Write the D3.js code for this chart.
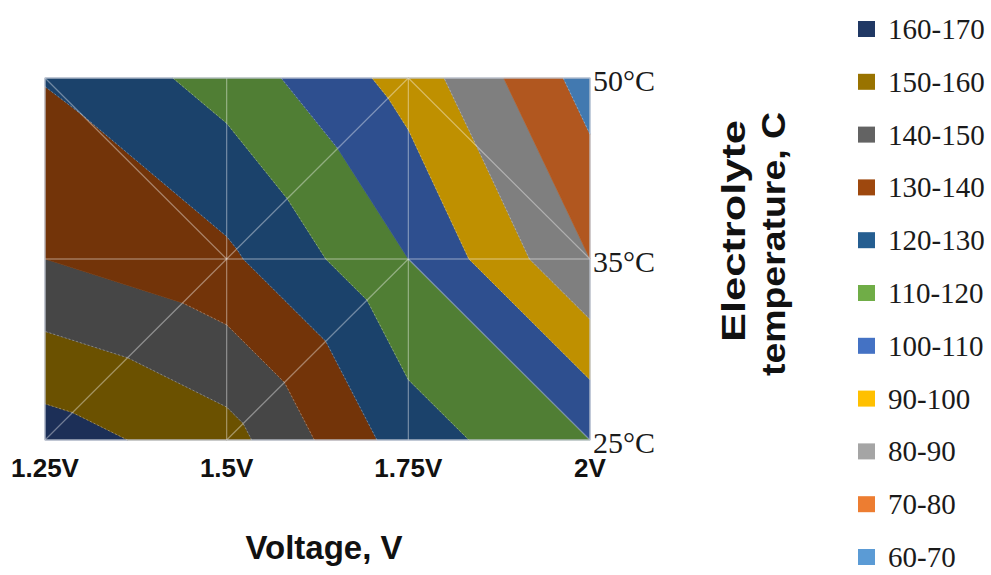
<!DOCTYPE html>
<html>
<head>
<meta charset="utf-8">
<script src="https://cdn.jsdelivr.net/npm/d3@7"></script>
<style>
    body { margin: 0; background: #fff; }
</style>
</head>
<body>
<div class="svg-container"></div>
<script>
// Data
const voltages = ['1.25V', '1.5V', '1.75V', '2V'];
const temps = ['25°C', '35°C', '50°C'];
const at25 = [165, 154, 125, 110];
const at35 = [140, 132, 110, 80];
const at50 = [129.5, 116, 96, 65.5];
const bandLabels = ['160-170', '150-160', '140-150', '130-140', '120-130', '110-120',
                    '100-110', '90-100', '80-90', '70-80', '60-70'];
const bandFrom = [160, 150, 140, 130, 120, 110, 100, 90, 80, 70, 60];
const bandTo = [170, 160, 150, 140, 130, 120, 110, 100, 90, 80, 70];

// Styles
const surfaceColors = ['#1c2f57', '#6b5100', '#464646', '#733409', '#1b426b', '#507e34',
                       '#2e4f8f', '#bf9000', '#7f7f7f', '#b1571f', '#4279b0'];
const legendColors = ['#203864', '#997300', '#636363', '#9e480e', '#255e91', '#70ad47',
                      '#4472c4', '#ffc000', '#a5a5a5', '#ed7d31', '#5b9bd5'];
// how each cell is split: '/' bottom-left to top-right, '\' top-left to bottom-right
const cellSplit = [['/', '/', '\\'], ['\\', '/', '\\']];

const chart = (() => {
    const W = 991, H = 575;
    const PLOT = { LEFT: 45, RIGHT: 590, TOP: 78, BOTTOM: 440 };
    const SANS = '"Liberation Sans", Arial, sans-serif';

    const x = d3.scalePoint().domain(voltages).range([PLOT.LEFT, PLOT.RIGHT]);
    const y = d3.scalePoint().domain(temps).range([PLOT.BOTTOM, PLOT.TOP]);
    const rows = [at25, at35, at50];

    const node = (i, j) => ({ x: x(voltages[i]), y: y(temps[j]), z: rows[j][i] });

    /**
     * Clip a polygon on its linear z value
     */
    const clipPoly = (pts, level, keepAbove) => {
        const out = [];
        const inside = p => keepAbove ? p.z >= level : p.z <= level;
        pts.forEach((p, k) => {
            const q = pts[(k + 1) % pts.length];
            const pin = inside(p), qin = inside(q);
            if (pin) out.push(p);
            if (pin !== qin) {
                const t = (level - p.z) / (q.z - p.z);
                out.push({ x: p.x + t * (q.x - p.x), y: p.y + t * (q.y - p.y), z: level });
            }
        });
        return out;
    };

    const triangles = () => {
        const tris = [];
        cellSplit.forEach((row, j) => {
            row.forEach((split, i) => {
                const BL = node(i, j), BR = node(i + 1, j), TL = node(i, j + 1), TR = node(i + 1, j + 1);
                if (split === '/') tris.push([BL, BR, TR], [BL, TR, TL]);
                else tris.push([TL, BL, BR], [TL, BR, TR]);
            });
        });
        return tris;
    };

    // segment of a triangle where z equals level
    const isoSegment = (tri, level) => {
        const pts = [];
        tri.forEach((p, k) => {
            const q = tri[(k + 1) % 3];
            if ((p.z - level) * (q.z - level) < 0) {
                const t = (level - p.z) / (q.z - p.z);
                pts.push({ x: p.x + t * (q.x - p.x), y: p.y + t * (q.y - p.y) });
            }
        });
        return pts.length === 2 ? pts : null;
    };

    const init = () => {
        const svg = d3.select('.svg-container').append('svg')
            .attr('width', W).attr('height', H)
            .style('font-family', '"Liberation Serif", "Times New Roman", serif');

        // Surface bands
        const tris = triangles();
        const polys = [];
        tris.forEach(tri => {
            bandFrom.forEach((lo, b) => {
                let p = clipPoly(tri, lo, true);
                if (p.length) p = clipPoly(p, bandTo[b], false);
                if (p.length >= 3) polys.push({ pts: p, b: b });
            });
        });
        const line = d3.line().x(d => d.x).y(d => d.y);
        svg.append('g').selectAll('path')
            .data(polys).enter().append('path')
            .attr('d', d => line(d.pts) + 'Z')
            .attr('fill', d => surfaceColors[d.b])
            .attr('stroke', d => surfaceColors[d.b])
            .attr('stroke-width', 0.6)
            .attr('stroke-linejoin', 'round');

        // faint dotted band edges
        const segs = [];
        tris.forEach(tri => bandFrom.forEach(lv => {
            const s = isoSegment(tri, lv);
            if (s) segs.push(s);
        }));
        svg.append('g').selectAll('line')
            .data(segs).enter().append('line')
            .attr('x1', d => d[0].x).attr('y1', d => d[0].y)
            .attr('x2', d => d[1].x).attr('y2', d => d[1].y)
            .attr('stroke', '#ffffff').attr('stroke-opacity', 0.3)
            .attr('stroke-width', 1).attr('stroke-dasharray', '2,2');

        // Grid lines over the surface
        const grid = svg.append('g')
            .attr('stroke', '#ffffff').attr('stroke-opacity', 0.35).attr('stroke-width', 1.3);
        voltages.forEach(v => grid.append('line')
            .attr('x1', x(v)).attr('x2', x(v)).attr('y1', PLOT.TOP).attr('y2', PLOT.BOTTOM));
        temps.forEach(t => grid.append('line')
            .attr('x1', PLOT.LEFT).attr('x2', PLOT.RIGHT).attr('y1', y(t)).attr('y2', y(t)));
        cellSplit.forEach((row, j) => row.forEach((split, i) => {
            const a = split === '/' ? [node(i, j), node(i + 1, j + 1)] : [node(i, j + 1), node(i + 1, j)];
            grid.append('line').attr('x1', a[0].x).attr('y1', a[0].y).attr('x2', a[1].x).attr('y2', a[1].y);
        }));
        svg.append('rect')
            .attr('x', PLOT.LEFT).attr('y', PLOT.TOP)
            .attr('width', PLOT.RIGHT - PLOT.LEFT).attr('height', PLOT.BOTTOM - PLOT.TOP)
            .attr('fill', 'none').attr('stroke', '#b4bccb').attr('stroke-width', 1);

        // Temperature labels on the right
        svg.append('g').selectAll('text')
            .data(temps).enter().append('text')
            .attr('x', PLOT.RIGHT + 3).attr('y', d => y(d) + 13)
            .attr('font-size', 30).attr('fill', '#1a1a1a')
            .text(d => d);

        // Voltage labels
        svg.append('g').selectAll('text')
            .data(voltages).enter().append('text')
            .attr('x', d => x(d)).attr('y', 477)
            .attr('text-anchor', 'middle')
            .style('font-family', SANS)
            .attr('font-weight', 'bold').attr('font-size', 26).attr('fill', '#111')
            .text(d => d);

        svg.append('text')
            .attr('x', 324).attr('y', 559).attr('text-anchor', 'middle')
            .style('font-family', SANS)
            .attr('font-weight', 'bold').attr('font-size', 33).attr('fill', '#111')
            .text('Voltage, V');

        // Rotated axis title, stretched along its length as in the picture
        const title = svg.append('g')
            .style('font-family', SANS)
            .attr('font-weight', 'bold').attr('font-size', 33).attr('fill', '#111')
            .attr('text-anchor', 'middle');
        title.append('text').attr('transform', 'translate(745,231) rotate(-90)')
            .attr('textLength', 222).attr('lengthAdjust', 'spacingAndGlyphs')
            .text('Electrolyte');
        title.append('text').attr('transform', 'translate(785,244) rotate(-90)')
            .attr('textLength', 264).attr('lengthAdjust', 'spacingAndGlyphs')
            .text('temperature, C');

        // Legend
        const legend = svg.append('g').selectAll('g')
            .data(bandLabels).enter().append('g')
            .attr('transform', (d, i) => `translate(858, ${29 + 52.8 * i})`);
        legend.append('rect')
            .attr('x', 0).attr('y', -8).attr('width', 17).attr('height', 16)
            .attr('fill', (d, i) => legendColors[i]);
        legend.append('text')
            .attr('x', 30).attr('y', 10)
            .attr('font-size', 29).attr('fill', '#1a1a1a')
            .text(d => d);
    };

    return { init: init };
})();

chart.init();
</script>
</body>
</html>
